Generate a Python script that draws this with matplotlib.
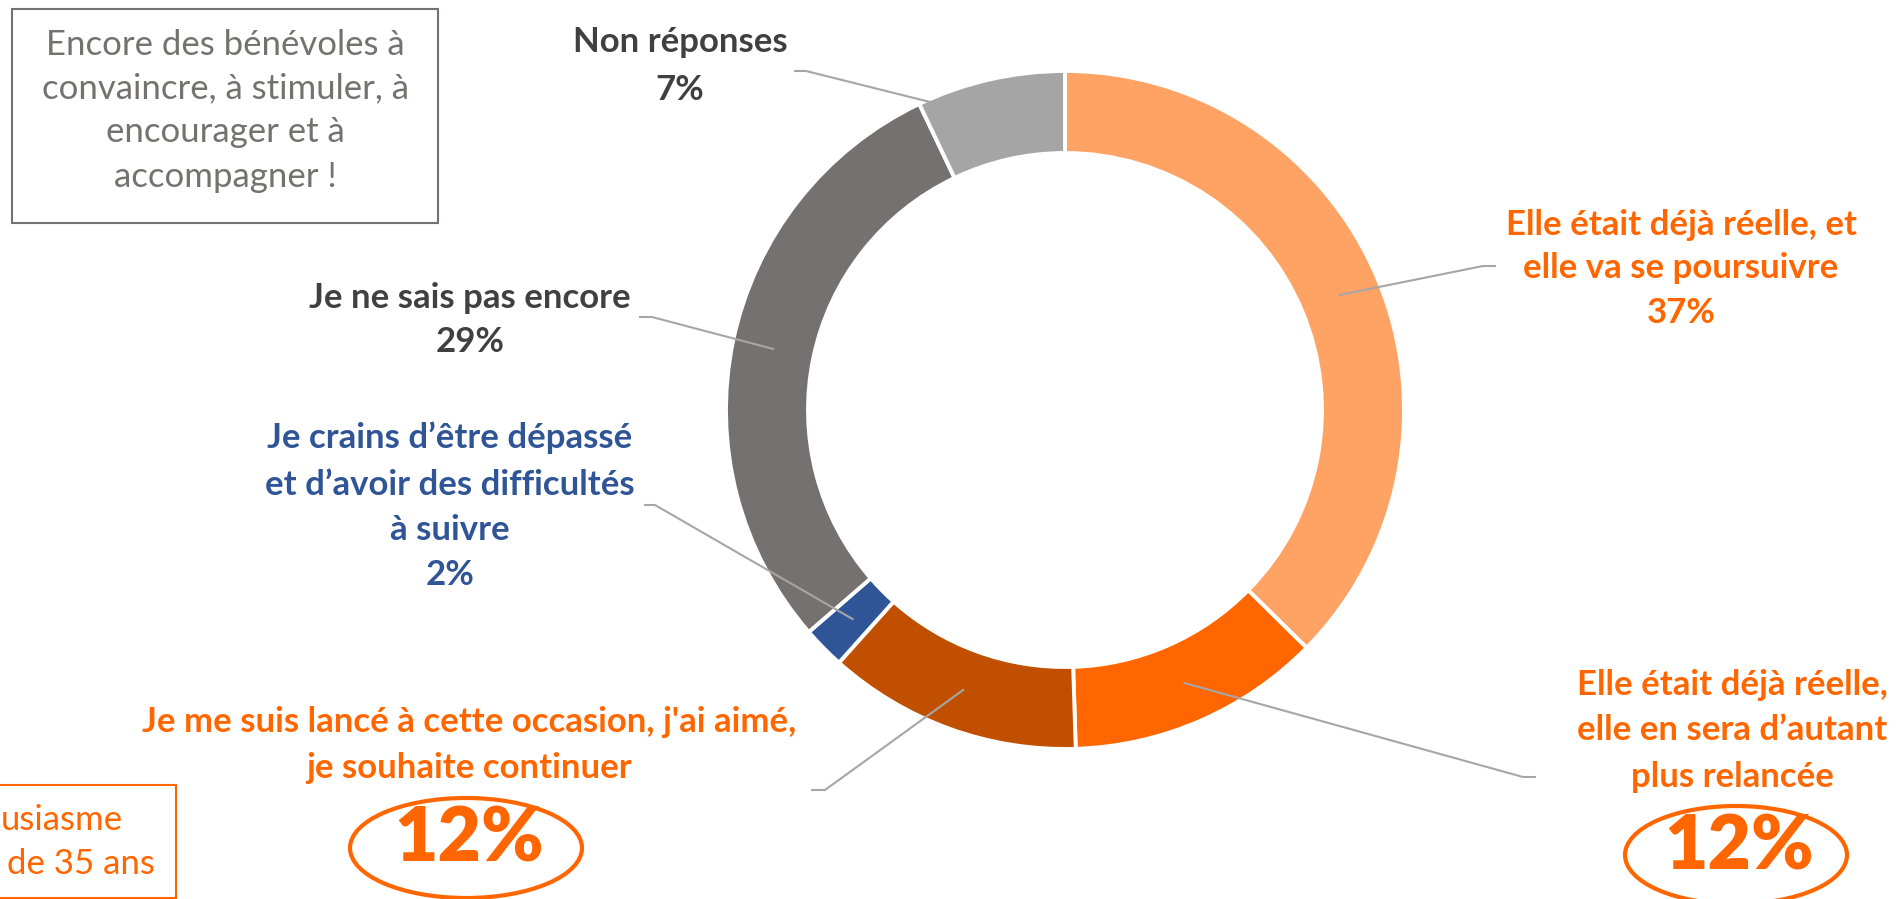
import numpy as np
import matplotlib
matplotlib.use("Agg")
import matplotlib.pyplot as plt
from matplotlib.patches import Ellipse, Rectangle

plt.rcParams['font.family'] = ['Lato', 'DejaVu Sans']

# Donut data (clockwise from the top)
labels = ["Elle était déjà réelle, et\nelle va se poursuivre",
          "Elle était déjà réelle,\nelle en sera d’autant\nplus relancée",
          "Je me suis lancé à cette occasion, j'ai aimé,\nje souhaite continuer",
          "Je crains d’être dépassé\net d’avoir des difficultés\nà suivre",
          "Je ne sais pas encore",
          "Non réponses"]
values = [37, 12, 12, 2, 29, 7]
colors = ["#FFA365", "#FF6600", "#C04F00", "#2F5597", "#767171", "#A5A5A5"]
text_colors = ["#FF6600", "#FF6600", "#FF6600", "#2F5597", "#404040", "#404040"]

W, H = 1903, 899
fig = plt.figure(figsize=(W / 100, H / 100), dpi=100)
ax = fig.add_axes([0, 0, 1, 1])
ax.set_xlim(0, W)
ax.set_ylim(0, H)
ax.set_aspect('equal')
ax.axis('off')


def Y(y):
    # pixel row (from top) -> data y
    return H - y


cx, cy, R, ring = 1065, 410, 339, 82
wedges, _ = ax.pie(values, colors=colors, startangle=90, counterclock=False,
                   center=(cx, Y(cy)), radius=R,
                   wedgeprops=dict(width=ring, edgecolor='white', linewidth=2.8))
ax.set_xlim(0, W)
ax.set_ylim(0, H)

# label text position, elbow point and end of the short horizontal tick
layout = [
    dict(text=(1681, 247), elbow=(1483, 266), tick=(1495, 266), pct="37%"),
    dict(text=(1732, 730), elbow=(1523, 777), tick=(1535, 777), pct=None),
    dict(text=(469, 745), elbow=(825, 790), tick=(812, 790), pct=None),
    dict(text=(450, 484), elbow=(655, 505), tick=(645, 505), pct="2%"),
    dict(text=(470, 298), elbow=(652, 317), tick=(640, 317), pct="29%"),
    dict(text=(680, 44), elbow=(806, 71), tick=(795, 71), pct="7%"),
]
line_y = {0: [225, 268, 313], 1: [685, 730, 777], 2: [722, 768],
          3: [438, 485, 530, 575], 4: [298, 342], 5: [42, 90]}

for i, (w, lay) in enumerate(zip(wedges, layout)):
    mid = np.deg2rad((w.theta1 + w.theta2) / 2)
    rm = R - ring / 2
    px, py = w.center[0] + rm * np.cos(mid), w.center[1] + rm * np.sin(mid)
    ex, ey = lay['elbow']
    tx, ty = lay['tick']
    ax.plot([px, ex, tx], [py, Y(ey), Y(ty)], color="#A6A6A6", lw=1.5,
            solid_joinstyle='miter', zorder=3)
    lines = labels[i].split("\n")
    if lay['pct']:
        lines = lines + [lay['pct']]
    for line, yy in zip(lines, line_y[i]):
        ax.text(lay['text'][0], Y(yy), line, ha='center', va='center',
                fontsize=25, fontweight='bold', color=text_colors[i])

# big circled percentages
for (ex_, ey_, ew, eh, val) in [(466, 848, 232, 100, values[2]),
                                (1736, 855, 222, 98, values[1])]:
    ax.add_patch(Ellipse((ex_, Y(ey_)), ew, eh, fill=False,
                         edgecolor="#FF6600", lw=3))
    ax.text(ex_ + 3, Y(ey_ - 8), f"{val}%", ha='center', va='center',
            fontsize=54, fontweight='heavy', color="#FF6600")

# top-left comment box
ax.add_patch(Rectangle((12, Y(223)), 426, 214, fill=False,
                       edgecolor="#767171", lw=1.5))
for line, yy in zip(["Encore des bénévoles à", "convaincre, à stimuler, à",
                     "encourager et à", "accompagner !"], [45, 88, 132, 177]):
    ax.text(225, Y(yy), line, ha='center', va='center', fontsize=25,
            color="#767171")

# bottom-left box (cut by the edge of the picture)
ax.add_patch(Rectangle((-300, Y(898)), 476, 113, fill=False,
                       edgecolor="#FF6600", lw=1.5, clip_on=False))
ax.text(1, Y(820), "usiasme", ha='left', va='center', fontsize=25,
        color="#FF6600")
ax.text(7, Y(864), "de 35 ans", ha='left', va='center', fontsize=25,
        color="#FF6600")

fig.savefig("out.png", dpi=100, facecolor='white')
